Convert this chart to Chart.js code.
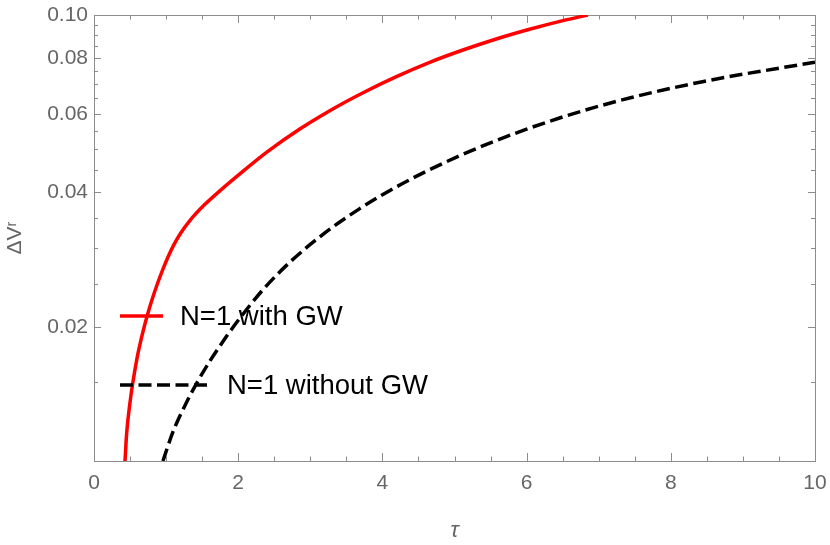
<!DOCTYPE html>
<html>
<head>
<meta charset="utf-8">
<script src="https://cdn.jsdelivr.net/npm/chart.js@4.4.1/dist/chart.umd.min.js"></script>
<style>
  html, body { margin: 0; padding: 0; background: #fff; }
  #wrap { width: 830px; height: 545px; }
</style>
</head>
<body>
<div id="wrap"><canvas id="chart" width="830" height="545"></canvas></div>
<script>
// ── DATA ────────────────────────────────────────────────────
const tauRed = [0.430, 0.453, 0.498, 0.535, 0.599, 0.657, 0.702, 0.760, 0.810, 0.881, 0.951, 1.028, 1.105, 1.199, 1.335,
                1.528, 1.757, 2.002, 2.397, 2.854, 3.270, 3.732, 4.194, 4.656, 5.117, 5.580, 6.041, 6.503, 6.849];
const dvRed  = [0.01000, 0.01154, 0.01347, 0.01486, 0.01708, 0.01885, 0.02016, 0.02178, 0.02314, 0.02500, 0.02679, 0.02870, 0.03048, 0.03237, 0.03468,
                0.03748, 0.04049, 0.04375, 0.04927, 0.05551, 0.06103, 0.06696, 0.07275, 0.07833, 0.08346, 0.08835, 0.09288, 0.09714, 0.10000];

const tauBlack = [0.956, 1.095, 1.289, 1.427, 1.607, 1.843, 2.023, 2.342, 2.716, 3.215, 3.686, 4.129,
                  4.586, 5.044, 5.515, 6.000, 6.457, 6.942, 7.455, 7.940, 8.439, 8.951, 9.436, 10.0];
const dvBlack  = [0.01000, 0.01162, 0.01359, 0.01497, 0.01675, 0.01908, 0.02090, 0.02420, 0.02790, 0.03258, 0.03680, 0.04063,
                  0.04443, 0.04813, 0.05181, 0.05546, 0.05876, 0.06206, 0.06531, 0.06814, 0.07086, 0.07342, 0.07567, 0.07837];

const seriesLabels = ['N=1 with GW', 'N=1 without GW'];

// ── AXIS TICKS ──────────────────────────────────────────────
const xMajor = [0, 2, 4, 6, 8, 10];
const xMinor = [0.5, 1, 1.5, 2.5, 3, 3.5, 4.5, 5, 5.5, 6.5, 7, 7.5, 8.5, 9, 9.5];
const yMajor = [0.02, 0.04, 0.06, 0.08, 0.10];
const yMinor = [0.015, 0.025, 0.03, 0.035, 0.045, 0.05, 0.055, 0.065, 0.07, 0.075, 0.085, 0.09, 0.095];

const FONT = '"Liberation Sans", Arial, sans-serif';
const GREY = '#666666';
const FRAME = '#8c8c8c';

// Mathematica-style frame with inward ticks on all four sides
const framePlugin = {
  id: 'frame',
  beforeDatasetsDraw(chart) {
    const { ctx, chartArea: a, scales: { x, y } } = chart;
    ctx.save();
    ctx.strokeStyle = FRAME;
    ctx.lineWidth = 1;
    ctx.strokeRect(Math.round(a.left) + 0.5, Math.round(a.top) + 0.5,
                   Math.round(a.right - a.left), Math.round(a.bottom - a.top));
    ctx.beginPath();
    const xTick = (v, len) => {
      const px = Math.round(x.getPixelForValue(v)) + 0.5;
      ctx.moveTo(px, a.bottom); ctx.lineTo(px, a.bottom - len);
      ctx.moveTo(px, a.top);    ctx.lineTo(px, a.top + len);
    };
    const yTick = (v, len) => {
      const py = Math.round(y.getPixelForValue(v)) + 0.5;
      ctx.moveTo(a.left, py);  ctx.lineTo(a.left + len, py);
      ctx.moveTo(a.right, py); ctx.lineTo(a.right - len, py);
    };
    xMajor.forEach(v => xTick(v, 8));
    xMinor.forEach(v => xTick(v, 4.5));
    yMajor.forEach(v => yTick(v, 7));
    yMinor.forEach(v => yTick(v, 4));
    ctx.stroke();
    ctx.restore();
  }
};

// Legend placed inside the plot, as in the reference
const legendPlugin = {
  id: 'insideLegend',
  afterDatasetsDraw(chart) {
    const { ctx } = chart;
    const items = [
      { y: 316, x0: 120, x1: 163, tx: 180 },
      { y: 385, x0: 120, x1: 207, tx: 227 }
    ];
    ctx.save();
    items.forEach((it, i) => {
      const ds = chart.data.datasets[i];
      ctx.strokeStyle = ds.borderColor;
      ctx.lineWidth = ds.borderWidth;
      ctx.setLineDash(ds.borderDash || []);
      ctx.beginPath();
      ctx.moveTo(it.x0, it.y);
      ctx.lineTo(it.x1, it.y);
      ctx.stroke();
      ctx.setLineDash([]);
      ctx.fillStyle = '#000';
      ctx.font = '27.5px ' + FONT;
      ctx.textBaseline = 'middle';
      ctx.fillText(ds.label, it.tx, it.y + 1);
    });
    ctx.restore();
  }
};

const toPoints = (xs, ys) => xs.map((t, i) => ({ x: t, y: ys[i] }));
const noPad = s => { s.paddingLeft = 0; s.paddingRight = 0; s.paddingTop = 0; s.paddingBottom = 0; };

new Chart(document.getElementById('chart').getContext('2d'), {
  type: 'line',
  data: {
    datasets: [
      {
        label: seriesLabels[0],
        data: toPoints(tauRed, dvRed),
        borderColor: '#ff0000',
        borderWidth: 3.5,
        pointRadius: 0,
        cubicInterpolationMode: 'monotone',
        fill: false
      },
      {
        label: seriesLabels[1],
        data: toPoints(tauBlack, dvBlack),
        borderColor: '#000000',
        borderWidth: 3.5,
        borderDash: [13, 5.5],
        pointRadius: 0,
        cubicInterpolationMode: 'monotone',
        fill: false
      }
    ]
  },
  options: {
    responsive: false,
    animation: false,
    layout: { padding: { left: 0, right: 15, top: 15, bottom: 0 } },
    plugins: {
      legend: { display: false },
      tooltip: { enabled: false }
    },
    scales: {
      x: {
        type: 'linear',
        min: 0,
        max: 10,
        afterBuildTicks: s => { s.ticks = xMajor.map(v => ({ value: v })); },
        afterFit: s => { s.height = 84; noPad(s); },
        grid: { display: false, drawTicks: false },
        border: { display: false },
        ticks: {
          color: GREY,
          font: { family: FONT, size: 21 },
          padding: 10,
          maxRotation: 0,
          callback: v => String(v)
        },
        title: {
          display: true,
          text: 'τ',
          color: GREY,
          font: { family: FONT, size: 22, style: 'italic' },
          padding: { top: 0, bottom: 1 }
        }
      },
      y: {
        type: 'logarithmic',
        min: 0.01,
        max: 0.1,
        afterBuildTicks: s => { s.ticks = yMajor.map(v => ({ value: v })); },
        afterFit: s => { s.width = 94; noPad(s); },
        grid: { display: false, drawTicks: false },
        border: { display: false },
        ticks: {
          color: GREY,
          font: { family: FONT, size: 21 },
          padding: 6,
          callback: v => Number(v).toFixed(2)
        },
        title: {
          display: true,
          text: 'ΔVʳ',
          color: GREY,
          font: { family: FONT, size: 21 },
          padding: { top: 3, bottom: 0 }
        }
      }
    }
  },
  plugins: [framePlugin, legendPlugin]
});
</script>
</body>
</html>
